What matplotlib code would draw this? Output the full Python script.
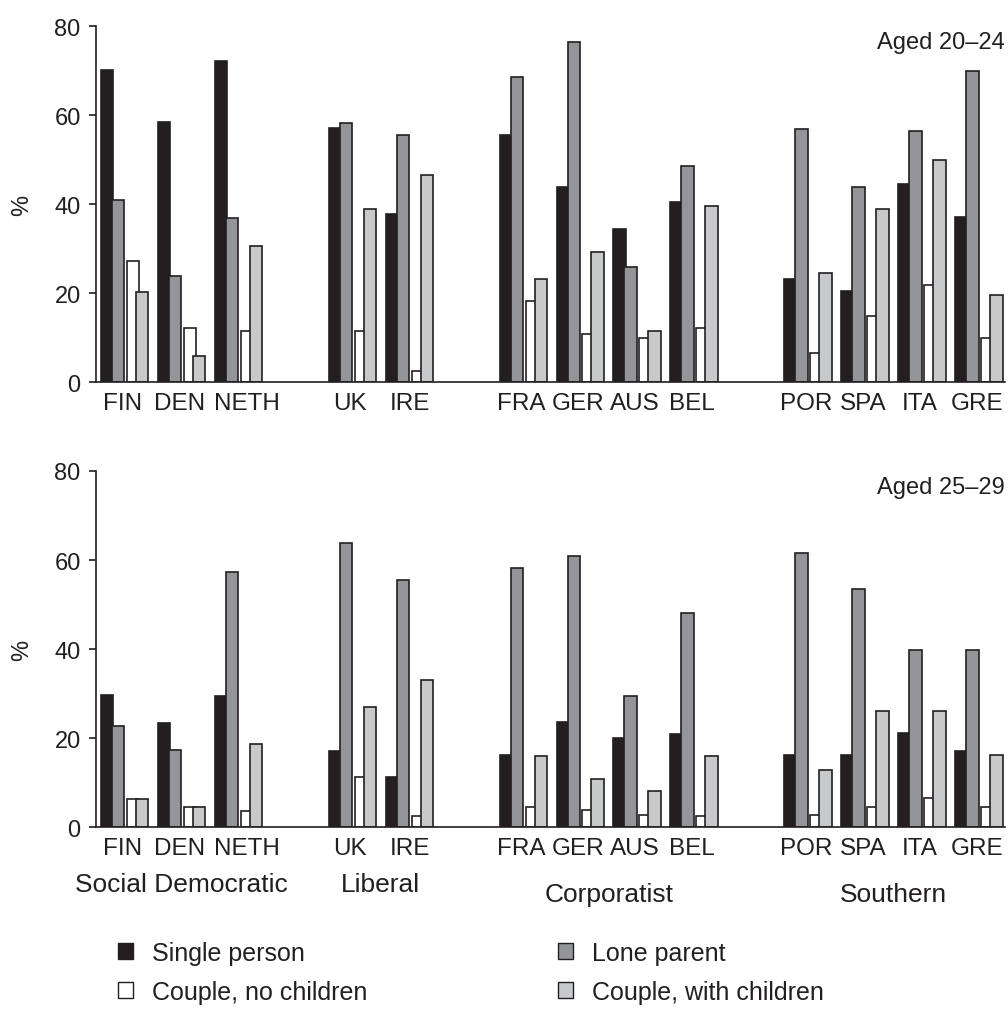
import matplotlib
matplotlib.use("Agg")
import matplotlib.pyplot as plt
from matplotlib.patches import Patch
from matplotlib.transforms import blended_transform_factory

plt.rcParams['font.family'] = ['Liberation Sans', 'DejaVu Sans']
plt.rcParams['font.size'] = 17

# countries and the slot each one sits in (empty slots separate the regimes)
countries = ['FIN', 'DEN', 'NETH', 'UK', 'IRE', 'FRA', 'GER', 'AUS', 'BEL',
             'POR', 'SPA', 'ITA', 'GRE']
slots = [0, 1, 2, 4, 5, 7, 8, 9, 10, 12, 13, 14, 15]
regimes = ['Social Democratic', 'Liberal', 'Corporatist', 'Southern']
regime_slots = [(0, 2), (4, 5), (7, 10), (12, 15)]

# aged 20-24
single_20 = [70.1, 58.4, 72.1, 57.0, 37.7, 55.6, 43.9, 34.3, 40.5, 23.1, 20.4, 44.6, 37.0]
lone_20 = [41.0, 23.8, 36.9, 58.2, 55.6, 68.6, 76.3, 25.9, 48.6, 56.9, 43.8, 56.3, 70.0]
cnc_20 = [27.2, 12.1, 11.4, 11.4, 2.4, 18.3, 10.7, 10.0, 12.1, 6.6, 14.9, 21.8, 10.0]
cwc_20 = [20.3, 5.8, 30.6, 38.9, 46.6, 23.1, 29.3, 11.4, 39.6, 24.5, 38.9, 50.0, 19.6]

# aged 25-29
single_25 = [29.7, 23.3, 29.4, 17.1, 11.2, 16.1, 23.7, 20.1, 21.0, 16.1, 16.1, 21.1, 17.1]
lone_25 = [22.8, 17.2, 57.4, 63.8, 55.4, 58.3, 60.8, 29.4, 48.1, 61.6, 53.5, 39.7, 39.7]
cnc_25 = [6.2, 4.6, 3.5, 11.3, 2.5, 4.5, 3.9, 2.6, 2.4, 2.7, 4.5, 6.6, 4.5]
cwc_25 = [6.2, 4.6, 18.7, 26.9, 33.1, 15.9, 10.9, 8.0, 16.0, 12.8, 26.1, 26.1, 16.1]

series_names = ['Single person', 'Lone parent', 'Couple, no children', 'Couple, with children']
colors = ['#231f20', '#939598', '#ffffff', '#c8c9cb']
offsets = [0.0, 0.193, 0.456, 0.614]
width = 0.22
edge = '#231f20'
ink = '#231f20'

# small nudge for the tick labels (NETH sits further right in the original)
label_nudge = {'NETH': 0.18, 'IRE': 0.05}

fig = plt.figure(figsize=(10.08, 10.12), dpi=100)
ax_top = fig.add_axes([0.0952, 0.6215, 0.9018, 0.3518])
ax_bot = fig.add_axes([0.0952, 0.1818, 0.9018, 0.3518])


def draw_panel(ax, data, title):
    for vals, col, off in zip(data, colors, offsets):
        ax.bar([s + off for s in slots], vals, width=width, align='edge',
               color=col, edgecolor=edge, linewidth=1.2, zorder=2)
    ax.set_xlim(-0.082, 15.87)
    ax.set_ylim(0, 80)
    ax.set_yticks([0, 20, 40, 60, 80])
    ax.set_xticks([s + 0.38 + label_nudge.get(c, 0) for s, c in zip(slots, countries)])
    ax.set_xticklabels(countries, fontsize=17.5)
    ax.tick_params(axis='x', length=0, pad=7, colors=ink)
    ax.tick_params(axis='y', length=5, width=1.2, pad=6, colors=ink)
    for side in ['top', 'right']:
        ax.spines[side].set_visible(False)
    for side in ['left', 'bottom']:
        ax.spines[side].set_linewidth(1.2)
        ax.spines[side].set_color(ink)
        ax.spines[side].set_zorder(3)
    ax.set_ylabel('%', color=ink, labelpad=15)
    ax.text(1.0, 0.955, title, transform=ax.transAxes, ha='right', va='center',
            color=ink)


draw_panel(ax_top, [single_20, lone_20, cnc_20, cwc_20], 'Aged 20–24')
draw_panel(ax_bot, [single_25, lone_25, cnc_25, cwc_25], 'Aged 25–29')

# regime labels under the lower panel
trans = blended_transform_factory(ax_bot.transData, fig.transFigure)
regime_y = [0.1255, 0.1255, 0.1155, 0.1155]
for name, (a, b), y in zip(regimes, regime_slots, regime_y):
    ax_bot.text((a + b + 0.833) / 2, y, name, transform=trans, ha='center',
                va='center', color=ink, fontsize=19)

handles = [Patch(facecolor=colors[0], edgecolor=edge, linewidth=1.0),
           Patch(facecolor=colors[2], edgecolor=edge, linewidth=1.0),
           Patch(facecolor=colors[1], edgecolor=edge, linewidth=1.0),
           Patch(facecolor=colors[3], edgecolor=edge, linewidth=1.0)]
labels = [series_names[0], series_names[2], series_names[1], series_names[3]]
fig.legend(handles, labels, ncol=2, loc='upper left', bbox_to_anchor=(0.117, 0.069),
           frameon=False, fontsize=18, handlelength=0.62, handleheight=0.62,
           handletextpad=0.75, columnspacing=7.6, labelspacing=0.6,
           borderaxespad=0, borderpad=0, labelcolor=ink)

fig.savefig('out.png', dpi=100)
